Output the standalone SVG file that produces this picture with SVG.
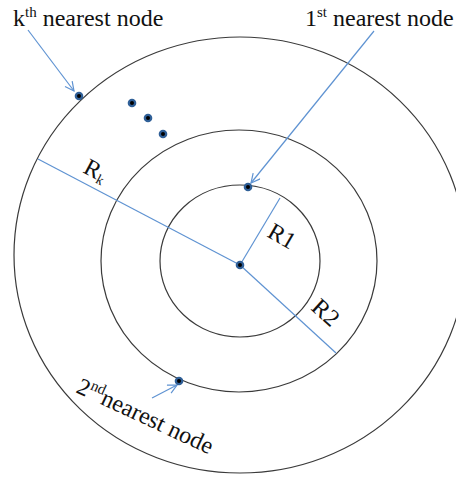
<svg xmlns="http://www.w3.org/2000/svg" width="456" height="477" viewBox="0 0 456 477">
<style>
.ring{fill:none;stroke:#3a3a3a;stroke-width:1.2}
.ln{stroke:#5f93d2;stroke-width:1.2;fill:none}
.t{font-family:"Liberation Serif",serif;font-size:24px;fill:#111}
.sup{font-size:15px}
.halo{fill:#2f5f97}
.core{fill:#000}
</style>
<defs>
<marker id="ah" markerWidth="12" markerHeight="12" refX="10" refY="5" orient="auto" markerUnits="userSpaceOnUse">
<path d="M1,0.5 L10,5 L1,9.5" fill="none" stroke="#5f93d2" stroke-width="1.2"/>
</marker>
<g id="dot"><circle r="4.3" class="halo"/><circle r="2" class="core"/></g>
</defs>
<rect width="456" height="477" fill="#fff"/>
<g id="rings">
<ellipse id="outer" class="ring" cx="240" cy="255" rx="226" ry="218"/>
<ellipse id="middle" class="ring" cx="239" cy="261" rx="138" ry="131"/>
<ellipse id="inner" class="ring" cx="240" cy="261" rx="80" ry="76"/>
</g>
<g id="connectors">
<line class="ln" x1="38" y1="159" x2="240" y2="265"/>
<line class="ln" x1="240" y1="265" x2="336" y2="353"/>
<line class="ln" x1="240" y1="265" x2="280" y2="198"/>
<line class="ln" x1="374" y1="31" x2="251" y2="183" marker-end="url(#ah)"/>
<line class="ln" x1="28" y1="30" x2="74" y2="91" marker-end="url(#ah)"/>
<line class="ln" x1="152" y1="398" x2="177" y2="385" marker-end="url(#ah)"/>
</g>
<g id="nodes">
<g id="center"><use href="#dot" x="240" y="265"/></g>
<g id="n1"><use href="#dot" x="248" y="187"/></g>
<g id="n2"><use href="#dot" x="179" y="381"/></g>
<g id="nk"><use href="#dot" x="79" y="96"/></g>
<g id="ellipsis"><use href="#dot" x="132" y="103"/><use href="#dot" x="148" y="118"/><use href="#dot" x="163" y="134"/></g>
</g>
<g id="labels">
<text class="t" x="13" y="26">k<tspan class="sup" dy="-9">th</tspan><tspan dy="9"> nearest node</tspan></text>
<text class="t" x="305" y="26">1<tspan class="sup" dy="-9">st</tspan><tspan dy="9"> nearest node</tspan></text>
<text class="t" transform="translate(82,172) rotate(28)">R<tspan font-size="14" dy="3">k</tspan></text>
<text class="t" transform="translate(266,236) rotate(30)">R1</text>
<text class="t" transform="translate(310,309) rotate(42)">R2</text>
<text class="t" transform="translate(75,392) rotate(25)">2<tspan class="sup" dy="-9">nd</tspan><tspan dy="9">nearest node</tspan></text>
</g>
</svg>
